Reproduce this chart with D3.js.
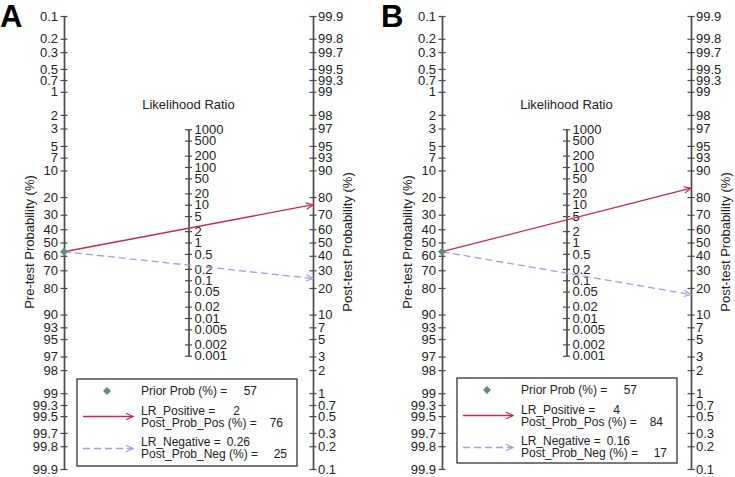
<!DOCTYPE html>
<html><head><meta charset="utf-8">
<script src="https://cdn.jsdelivr.net/npm/d3@7"></script>
<style>
html,body{margin:0;padding:0;background:#fff;}
svg{display:block;font-family:Arial,"Liberation Sans",sans-serif;}
</style></head>
<body><svg id="c" width="735" height="477"></svg>
<script>
const panelLabels = ["A", "B"];
const priorProb = [57, 57];
const lrPositive = [2, 4];
const postProbPos = [76, 84];
const lrNegative = [0.26, 0.16];
const postProbNeg = [25, 17];
const preTicks = [0.1,0.2,0.3,0.5,0.7,1,2,3,5,7,10,20,30,40,50,60,70,80,90,93,95,97,98,99,99.3,99.5,99.7,99.8,99.9];
const postTicks = [99.9,99.8,99.7,99.5,99.3,99,98,97,95,93,90,80,70,60,50,40,30,20,10,7,5,3,2,1,0.7,0.5,0.3,0.2,0.1];
const lrTicks = [1000,500,200,100,50,20,10,5,2,1,0.5,0.2,0.1,0.05,0.02,0.01,0.005,0.002,0.001];

const layout = [
  {left:64, right:313, label:{x:0}, legend:{x:77,y:379,w:220,h:87}},
  {left:442, right:691, label:{x:381}, legend:{x:457,y:378,w:220,h:85}}
];
const yTop = 16, yBottom = 469;
const logit = p => Math.log(p/(100-p));
const fmt = v => String(v);

const svg = d3.select("#c");
const defs = svg.append("defs");
function marker(id, color){
  defs.append("marker").attr("id",id).attr("viewBox","-8 -5 10 10")
    .attr("markerWidth",10).attr("markerHeight",10).attr("refX",0).attr("refY",0)
    .attr("markerUnits","userSpaceOnUse").attr("orient","auto")
    .append("path").attr("d","M-7,-3.2 L0,0 L-7,3.2").attr("fill","none")
    .attr("stroke",color).attr("stroke-width",1.2);
}
const red = "#c8284a", lav = "#9d9ee6", green = "#5f8d74", axisCol = "#4a4a4a";
marker("arRed", red); marker("arLav", lav);

function styleAxis(g, side){
  g.select(".domain").attr("stroke",axisCol).attr("stroke-width",1.7);
  g.selectAll(".tick line").attr("stroke",axisCol).attr("stroke-width",1.2)
    .attr("x1",-3.5).attr("x2",3.5);
  g.selectAll(".tick text").attr("fill","#222").style("font-size","13px")
    .attr("x", side==="left" ? -6 : 5);
}

layout.forEach((L, i) => {
  const g = svg.append("g");
  const preScale = d3.scaleLinear().domain([logit(0.1), logit(99.9)]).range([yTop, yBottom]);
  const postScale = d3.scaleLinear().domain([logit(99.9), logit(0.1)]).range([yTop, yBottom]);
  const mid = (yTop+yBottom)/2, k = (yBottom-yTop)/(logit(99.9)-logit(0.1));
  const lrScale = d3.scaleLog().domain([0.001, 1000])
    .range([mid + k*Math.log(1000)/2, mid - k*Math.log(1000)/2]);
  const xMid = (L.left + L.right)/2;

  const ga = g.append("g").attr("transform",`translate(${L.left},0)`)
    .call(d3.axisLeft(preScale).tickValues(preTicks.map(logit)).tickSizeOuter(0).tickSizeInner(3.5)
      .tickFormat((d,j)=>fmt(preTicks[j])));
  styleAxis(ga,"left");
  const gb = g.append("g").attr("transform",`translate(${L.right},0)`)
    .call(d3.axisRight(postScale).tickValues(postTicks.map(logit)).tickSizeOuter(0).tickSizeInner(3.5)
      .tickFormat((d,j)=>fmt(postTicks[j])));
  styleAxis(gb,"right");
  const gm = g.append("g").attr("transform",`translate(${xMid},0)`)
    .call(d3.axisRight(lrScale).tickValues(lrTicks).tickSizeOuter(0).tickSizeInner(3.5)
      .tickFormat(d=>fmt(d)));
  styleAxis(gm,"right");
  gm.selectAll(".tick text").attr("x",6);

  g.append("text").attr("x",xMid).attr("y",109).attr("text-anchor","middle")
    .style("font-size","13px").attr("fill","#222").text("Likelihood Ratio");
  g.append("text").attr("transform",`translate(${L.left-30},242) rotate(-90)`)
    .attr("text-anchor","middle").style("font-size","13px").attr("fill","#222")
    .text("Pre-test Probability (%)");
  g.append("text").attr("transform",`translate(${L.right+39},242) rotate(-90)`)
    .attr("text-anchor","middle").style("font-size","13px").attr("fill","#222")
    .text("Post-test Probability (%)");

  g.append("text").attr("x",L.label.x).attr("y",27).style("font-size","31px")
    .style("font-weight","bold").attr("fill","#000").text(panelLabels[i]);

  // lines
  const y0 = preScale(logit(priorProb[i]));
  g.append("line").attr("x1",L.left).attr("y1",y0).attr("x2",L.right)
    .attr("y2",postScale(logit(postProbPos[i]))).attr("stroke",red).attr("stroke-width",1.3)
    .attr("marker-end","url(#arRed)");
  g.append("line").attr("x1",L.left).attr("y1",y0).attr("x2",L.right)
    .attr("y2",postScale(logit(postProbNeg[i]))).attr("stroke",lav).attr("stroke-width",1.3)
    .attr("stroke-dasharray","7,4").attr("marker-end","url(#arLav)");
  const diamond = d3.symbol().type(d3.symbolDiamond2).size(40);
  g.append("path").attr("d",diamond()).attr("transform",`translate(${L.left},${y0})`).attr("fill",green);

  // legend
  const lg = g.append("g").attr("transform",`translate(${L.legend.x},${L.legend.y})`);
  lg.append("rect").attr("width",L.legend.w).attr("height",L.legend.h)
    .attr("fill","#fff").attr("stroke","#333").attr("stroke-width",1.3);
  lg.append("path").attr("d",diamond()).attr("transform","translate(30,12)").attr("fill",green);
  lg.append("line").attr("x1",6).attr("x2",56).attr("y1",37.5).attr("y2",37.5)
    .attr("stroke",red).attr("stroke-width",1.3).attr("marker-end","url(#arRed)");
  lg.append("line").attr("x1",6).attr("x2",56).attr("y1",69.5).attr("y2",69.5)
    .attr("stroke",lav).attr("stroke-width",1.3).attr("stroke-dasharray","7,4").attr("marker-end","url(#arLav)");
  const rows = [
    ["Prior Prob (%) =", priorProb[i], 15.5, 180],
    ["LR_Positive =", lrPositive[i], 36, 163],
    ["Post_Prob_Pos (%) =", postProbPos[i], 48, 206],
    ["LR_Negative =", lrNegative[i], 67, 173],
    ["Post_Prob_Neg (%) =", postProbNeg[i], 79, 210]
  ];
  rows.forEach(r => {
    lg.append("text").attr("x",64).attr("y",r[2]).style("font-size","12px").attr("fill","#222").text(r[0]);
    lg.append("text").attr("x",r[3]).attr("y",r[2]).attr("text-anchor","end").style("font-size","12px").attr("fill","#222").text(fmt(r[1]));
  });
});
</script></body></html>
